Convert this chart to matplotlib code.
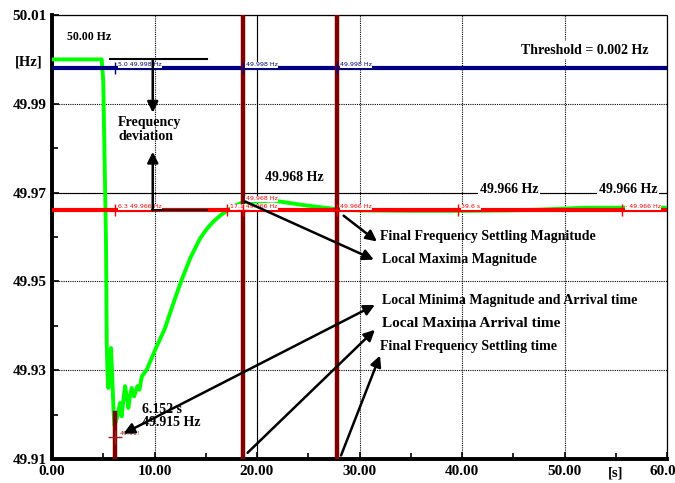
import numpy as np
import matplotlib
matplotlib.use('Agg')
import matplotlib.pyplot as plt
from matplotlib.ticker import MultipleLocator

plt.rcParams['font.family'] = ['Liberation Serif', 'DejaVu Serif']
plt.rcParams['font.weight'] = 'bold'

#%% data
t = [0, 4.85, 5.0, 5.15, 5.27, 5.34, 5.42, 5.50, 5.62, 5.76, 5.85, 5.92, 6.0, 6.1,
     6.3, 6.5, 6.64, 6.8, 7.0, 7.13, 7.3, 7.45, 7.6, 7.78, 8.01, 8.33, 8.53, 8.76,
     9.24, 10.22, 11.0, 11.52, 12.1, 12.66, 13.5, 14.45, 15.1, 15.75, 16.5, 17.16,
     17.8, 18.58, 20.0, 21.6, 24.5, 27.6, 30, 35, 40, 45, 48, 52, 56, 60]
freq = [50.0, 50.0, 49.995, 49.975, 49.959, 49.936, 49.929, 49.926, 49.932, 49.935,
        49.930, 49.926, 49.921, 49.9175, 49.919, 49.921, 49.9226, 49.9196, 49.924,
        49.9264, 49.924, 49.9215, 49.924, 49.926, 49.9241, 49.9264, 49.9256, 49.9286,
        49.9301, 49.9354, 49.9393, 49.9429, 49.9468, 49.9504, 49.9553, 49.9597,
        49.9618, 49.9635, 49.9650, 49.966, 49.9670, 49.9678, 49.968, 49.9682,
        49.9672, 49.9663, 49.9660, 49.9659, 49.9659, 49.9660, 49.9662,
        49.9666, 49.9666, 49.9666]

threshold_f = 49.998
settle_f = 49.966
t_min, f_min = 6.152, 49.915
t_max, t_settle = 18.6, 27.8

blue_marks = [6.152, 18.6, 27.8]
blue_labels = ['5.0 49.998 Hz', '49.998 Hz', '49.998 Hz']
red_marks = [6.152, 17.1, 18.6, 27.8, 39.6, 55.6]
red_labels = ['6.3 49.966 Hz', '17.1 49.966 Hz', '49.968 Hz', '49.966 Hz', '39.6 s', '- 49.966 Hz']

yticks = [49.91, 49.93, 49.95, 49.97, 49.99, 50.01]
xticks = [0, 10, 20, 30, 40, 50, 60]
xlabels = ['0.00', '10.00', '20.00', '30.00', '40.00', '50.00', '60.00']

#%% figure
fig = plt.figure(figsize=(6.75, 4.83), dpi=100)
ax = fig.add_axes([52/675, 1-459/483, 615/675, 444/483])
ax.set_xlim(0, 60)
ax.set_ylim(49.91, 50.01)

ax.set_xticks(xticks)
ax.set_xticklabels(xlabels)
ax.set_yticks(yticks)
ax.set_yticklabels(['%.2f' % v for v in yticks])
ax.xaxis.set_minor_locator(MultipleLocator(5))
ax.yaxis.set_minor_locator(MultipleLocator(0.01))
ax.tick_params(which='both', direction='in', width=1.2)
ax.tick_params(which='major', length=5, labelsize=11, pad=4)
ax.tick_params(which='minor', length=4)
for lab in ax.get_xticklabels() + ax.get_yticklabels():
    lab.set_fontweight('bold')

ax.grid(True, which='major', color='k', linestyle=(0, (1, 1)), linewidth=0.8)
for s in ['left', 'bottom']:
    ax.spines[s].set_linewidth(2.8)
for s in ['top', 'right']:
    ax.spines[s].set_linestyle((0, (1, 1)))
    ax.spines[s].set_linewidth(0.9)
ax.axhline(49.97, color='k', lw=0.8)
ax.axvline(20, color='k', lw=0.8)

# curves
ax.plot(t, freq, color='#00ff00', lw=2.8, zorder=3)
ax.axhline(settle_f, color='#ff0000', lw=3.0, zorder=4)
ax.axhline(threshold_f, color='#000080', lw=3.0, zorder=4)
ax.axvline(t_max, color='#800000', lw=3.2, zorder=5)
ax.axvline(t_settle, color='#800000', lw=3.2, zorder=5)
ax.plot([t_min, t_min], [49.91, 49.9204], color='#800000', lw=3.2, zorder=5)

# small cursor labels
for x, lab in zip(blue_marks, blue_labels):
    ax.plot(x, threshold_f, marker='+', ms=8, mew=1, color='#000080', zorder=6)
    ax.text(x + 0.3, threshold_f + 0.0002, lab, fontsize=4.5, color='#000080',
            family='DejaVu Sans', fontweight='normal', va='bottom', zorder=6,
            bbox=dict(facecolor='white', edgecolor='none', pad=0.3))
for x, lab in zip(red_marks, red_labels):
    yy = settle_f + (0.002 if lab == '49.968 Hz' else 0.0002)
    ax.plot(x, settle_f, marker='+', ms=8, mew=1, color='#ff0000', zorder=6)
    ax.text(x + 0.3, yy, lab, fontsize=4.5, color='#ff0000',
            family='DejaVu Sans', fontweight='normal', va='bottom', zorder=6,
            bbox=dict(facecolor='white', edgecolor='none', pad=0.3))
ax.plot(t_min, f_min, marker='+', ms=10, mew=1, color='#a02020', zorder=6)
ax.text(t_min + 0.5, f_min + 0.0002, '49.91!', fontsize=4.5, color='#a02020',
        family='DejaVu Sans', fontweight='normal', va='bottom', zorder=6)

# frequency deviation arrows
ax.plot([5.66, 15.17], [50.0, 50.0], color='k', lw=1.5, zorder=6)
ax.plot([9.8, 15.17], [settle_f, settle_f], color='k', lw=1.5, zorder=6)
arr = dict(arrowstyle='-|>', color='k', lw=1.8, mutation_scale=16, shrinkA=0, shrinkB=0)
ax.annotate('', xy=(9.83, 49.988), xytext=(9.83, 50.0), arrowprops=arr, zorder=6)
ax.annotate('', xy=(9.83, 49.9792), xytext=(9.83, settle_f), arrowprops=arr, zorder=6)
ax.text(6.45, 49.9842, 'Frequency\ndeviation', fontsize=10, ha='left', va='center',
        linespacing=1.05, zorder=7)

white = dict(facecolor='white', edgecolor='none', pad=1.5)
ax.text(3.6, 50.0051, '50.00 Hz', fontsize=8.5, ha='center', va='center')
ax.text(51.95, 50.0021, 'Threshold = 0.002 Hz', fontsize=10, ha='center', va='center',
        bbox=white, zorder=7)
ax.text(23.6, 49.9733, '49.968 Hz', fontsize=10, ha='center', va='center', bbox=white, zorder=7)
ax.text(44.6, 49.9708, '49.966 Hz', fontsize=10, ha='center', va='center', bbox=white, zorder=7)
ax.text(56.2, 49.9708, '49.966 Hz', fontsize=10, ha='center', va='center', bbox=white, zorder=7)
ax.text(8.76, 49.9197, '6.152 s\n49.915 Hz', fontsize=10, ha='left', va='center',
        linespacing=1.05, zorder=7)

# explanation arrows
ax.annotate('', xy=(31.4, 49.9549), xytext=(18.85, 49.968), arrowprops=arr, zorder=7)
ax.annotate('', xy=(31.7, 49.959), xytext=(28.45, 49.9648), arrowprops=arr, zorder=7)
arr2 = dict(arr, arrowstyle='<|-|>')
ax.annotate('', xy=(31.5, 49.9447), xytext=(6.97, 49.9157), arrowprops=arr2, zorder=7)
ax.annotate('', xy=(31.5, 49.9391), xytext=(19.08, 49.9114), arrowprops=arr, zorder=7)
ax.annotate('', xy=(32.0, 49.9333), xytext=(28.2, 49.9108), arrowprops=arr, zorder=7)

ax.text(32.0, 49.96, 'Final Frequency Settling Magnitude', fontsize=10, va='center', zorder=7)
ax.text(32.2, 49.9549, 'Local Maxima Magnitude', fontsize=10, va='center', zorder=7)
ax.text(32.2, 49.9457, 'Local Minima Magnitude and Arrival time', fontsize=10, va='center', zorder=7)
ax.text(32.2, 49.9405, 'Local Maxima Arrival time', fontsize=11, va='center', zorder=7)
ax.text(32.0, 49.9354, 'Final Frequency Settling time', fontsize=10, va='center', zorder=7)

# axis units
ax.text(-0.038, 49.9994, '[Hz]', transform=ax.get_yaxis_transform(), fontsize=10.5,
        ha='center', va='center')
ax.text(55, -0.031, '[s]', transform=ax.get_xaxis_transform(), fontsize=10.5,
        ha='center', va='center')

fig.savefig('out.png', dpi=100)
